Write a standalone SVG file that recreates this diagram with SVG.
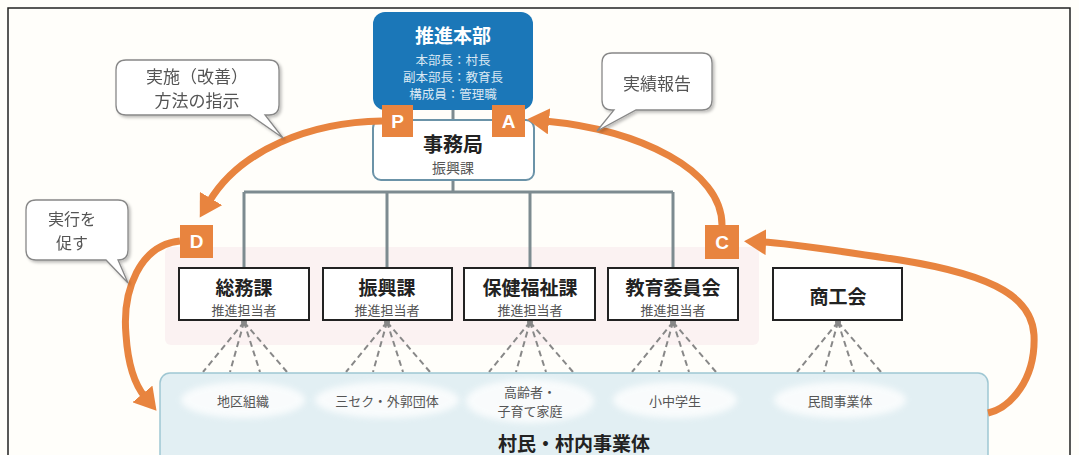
<svg xmlns="http://www.w3.org/2000/svg" width="1079" height="455" viewBox="0 0 1079 455">
<defs>
<style>
text{font-family:"Noto Sans CJK JP","Noto Sans",sans-serif;dominant-baseline:central;text-anchor:middle}
.t{font-size:19px;font-weight:bold;fill:#222}
.s{font-size:13px;fill:#555}
.b{font-size:13px;fill:#555}
.c{font-size:17px;fill:#555}
.hs{font-size:12.5px;fill:#d9e8f3}
.dept{fill:#fff;stroke:#222;stroke-width:2}
.tree{stroke:#7d8b90;stroke-width:3;fill:none}
.dash{stroke:#888;stroke-width:2;stroke-dasharray:6 4;fill:none}
.arr{stroke:#e8843f;stroke-width:7;fill:none;marker-end:url(#ah)}
.tag{fill:#e8843f}
.tagt{font-size:19px;font-weight:bold;fill:#fff;font-family:"Liberation Sans",sans-serif}
.call{fill:#fff;stroke:#888;stroke-width:1.3}
.blob{fill:#fff;opacity:0.8;filter:url(#bl)}
</style>
<marker id="ah" markerUnits="userSpaceOnUse" markerWidth="24" markerHeight="26" refX="4" refY="13" orient="auto" viewBox="0 0 24 26">
<path d="M0,0 L22,13 L0,26 z" fill="#e8843f"/>
</marker>
<filter id="bl" x="-20%" y="-50%" width="140%" height="200%"><feGaussianBlur stdDeviation="3"/></filter>
<filter id="sh" x="-10%" y="-10%" width="130%" height="140%"><feDropShadow dx="2" dy="2" stdDeviation="1.5" flood-color="#000" flood-opacity="0.25"/></filter>
</defs>
<rect x="0" y="0" width="1079" height="455" fill="#fffefa"/>
<path d="M8,455 V8 H1070 V455" fill="none" stroke="#222" stroke-width="1.5"/>

<rect x="165" y="247" width="594" height="98" rx="6" fill="#f8e9ed" opacity="0.6"/>

<g id="connectors">
<path class="tree" d="M453,110 V120 M453,180 V192 M244,192 H673 M244,192 V268 M387,192 V268 M530,192 V268 M673,192 V268"/>
<g class="dash">
<path d="M244,322 L203,372 M244,322 L230,372 M244,322 L260,372 M244,322 L287,372"/>
<path d="M387,322 L346,372 M387,322 L373,372 M387,322 L403,372 M387,322 L430,372"/>
<path d="M530,322 L489,372 M530,322 L516,372 M530,322 L546,372 M530,322 L573,372"/>
<path d="M673,322 L632,372 M673,322 L659,372 M673,322 L689,372 M673,322 L716,372"/>
<path d="M838,322 L797,372 M838,322 L824,372 M838,322 L854,372 M838,322 L881,372"/>
</g>
<g fill="#888"><circle cx="244" cy="322" r="3"/><circle cx="387" cy="322" r="3"/><circle cx="530" cy="322" r="3"/><circle cx="673" cy="322" r="3"/><circle cx="838" cy="322" r="3"/></g>
</g>

<g id="hq">
<rect x="373" y="12" width="160" height="98" rx="12" fill="#1b77b8"/>
<text x="453" y="34" style="font-size:19px;font-weight:bold;fill:#fff">推進本部</text>
<text x="453" y="59" class="hs">本部長：村長</text>
<text x="453" y="76" class="hs">副本部長：教育長</text>
<text x="453" y="93" class="hs">構成員：管理職</text>
</g>

<g id="office">
<rect x="373" y="120" width="161" height="60" rx="8" fill="#fff" stroke="#6b93a8" stroke-width="2"/>
<text x="453" y="143" class="t" style="font-size:20px">事務局</text>
<text x="453" y="167" class="s" style="font-size:14px">振興課</text>
</g>

<g id="soumu"><rect class="dept" x="179" y="268" width="130" height="52"/><text x="244" y="286" class="t">総務課</text><text x="244" y="309" class="s">推進担当者</text></g>
<g id="shinkou"><rect class="dept" x="323" y="268" width="129" height="52"/><text x="387" y="286" class="t">振興課</text><text x="387" y="309" class="s">推進担当者</text></g>
<g id="hoken"><rect class="dept" x="464" y="268" width="131" height="52"/><text x="530" y="286" class="t">保健福祉課</text><text x="530" y="309" class="s">推進担当者</text></g>
<g id="kyouiku"><rect class="dept" x="608" y="268" width="130" height="52"/><text x="673" y="286" class="t">教育委員会</text><text x="673" y="309" class="s">推進担当者</text></g>
<g id="shoukou"><rect class="dept" x="773" y="268" width="129" height="52"/><text x="838" y="295" class="t">商工会</text></g>

<g id="residents">
<rect x="160" y="373" width="828" height="100" rx="10" fill="#e2eff3" stroke="#9fc7d3" stroke-width="1.5"/>
<ellipse class="blob" cx="243" cy="400" rx="62" ry="18"/>
<ellipse class="blob" cx="387" cy="400" rx="72" ry="18"/>
<ellipse class="blob" cx="530" cy="401" rx="64" ry="22"/>
<ellipse class="blob" cx="675" cy="400" rx="62" ry="18"/>
<ellipse class="blob" cx="840" cy="400" rx="66" ry="18"/>
<text x="243" y="400" class="b">地区組織</text>
<text x="387" y="400" class="b">三セク・外郭団体</text>
<text x="530" y="391" class="b">高齢者・</text>
<text x="530" y="410" class="b">子育て家庭</text>
<text x="675" y="400" class="b">小中学生</text>
<text x="840" y="400" class="b">民間事業体</text>
<text x="574" y="442" class="t">村民・村内事業体</text>
</g>

<g id="arrows">
<path class="arr" d="M382,121 C310,122 240,150 209,202"/>
<path class="arr" d="M180,241 C140,245 122,290 126,335 C128,365 135,385 145,397"/>
<path class="arr" d="M988,413 C1010,408 1036,380 1034,335 C1032,300 1000,276 900,260 C830,250 790,243 762,242"/>
<path class="arr" d="M722,225 C722,170 640,130 545,121"/>
</g>

<g id="tags">
<rect class="tag" x="382" y="105" width="31" height="32"/><text x="397.5" y="121" class="tagt">P</text>
<rect class="tag" x="492" y="105" width="33" height="32"/><text x="508.5" y="121" class="tagt">A</text>
<rect class="tag" x="180" y="225" width="33" height="33"/><text x="196.5" y="241.5" class="tagt">D</text>
<rect class="tag" x="705" y="225" width="34" height="34"/><text x="722" y="242" class="tagt">C</text>
</g>

<g id="callout-plan" filter="url(#sh)">
<path class="call" d="M126,60 H269 Q279,60 279,70 V105 Q279,115 269,115 H265 L283,138 L250,115 H126 Q116,115 116,105 V70 Q116,60 126,60 Z"/>
<text x="197" y="75" class="c">実施（改善）</text>
<text x="197" y="99" class="c">方法の指示</text>
</g>
<g id="callout-report" filter="url(#sh)">
<path class="call" d="M612,53 H702 Q712,53 712,63 V100 Q712,110 702,110 H636 L597,131 L614,110 H612 Q602,110 602,100 V63 Q602,53 612,53 Z"/>
<text x="657" y="82" class="c">実績報告</text>
</g>
<g id="callout-do" filter="url(#sh)">
<path class="call" d="M36,200 H118 Q128,200 128,210 V250 Q128,260 118,260 L128,283 L106,260 H36 Q26,260 26,250 V210 Q26,200 36,200 Z"/>
<text x="72" y="218" class="c" style="font-size:16px">実行を</text>
<text x="72" y="242" class="c" style="font-size:16px">促す</text>
</g>
</svg>
